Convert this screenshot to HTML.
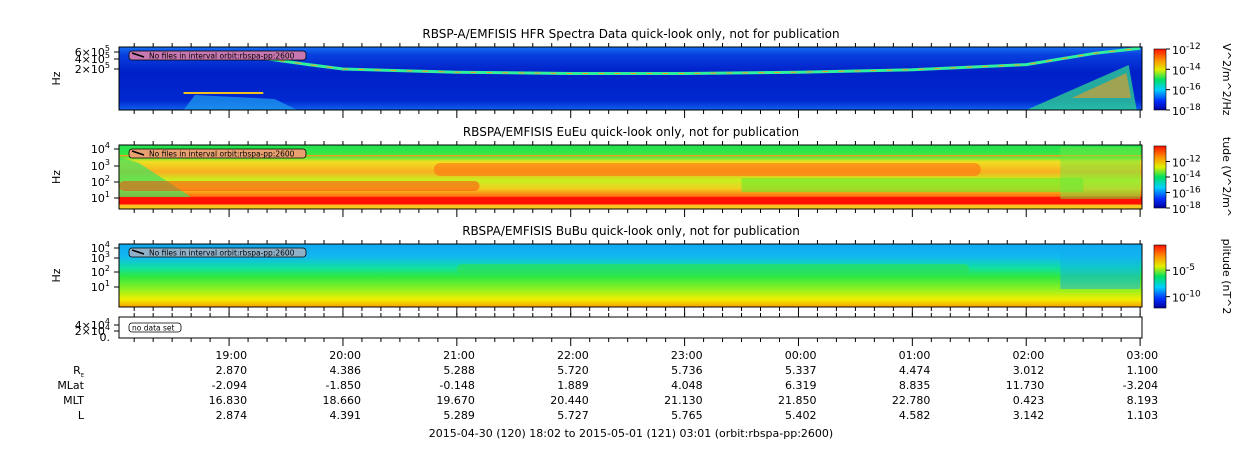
<!DOCTYPE html>
<html><head><meta charset="utf-8"><style>
body{margin:0;background:#fff;width:1250px;height:449px;overflow:hidden;font-family:"Liberation Sans","DejaVu Sans",sans-serif}
svg text{font-family:"DejaVu Sans","Liberation Sans",sans-serif}
</style></head><body>
<svg id="c" width="1250" height="449" viewBox="0 0 1250 449" xmlns="http://www.w3.org/2000/svg">
<defs>
<linearGradient id="jet" x1="0" y1="1" x2="0" y2="0">
<stop offset="0" stop-color="#0000a0"/><stop offset="0.15" stop-color="#0030ff"/><stop offset="0.33" stop-color="#00d0ff"/><stop offset="0.5" stop-color="#00e060"/><stop offset="0.66" stop-color="#e0f000"/><stop offset="0.82" stop-color="#ff9000"/><stop offset="1" stop-color="#ff1000"/></linearGradient>
<linearGradient id="p1bg" x1="0" y1="0" x2="0" y2="1">
<stop offset="0" stop-color="#1870f0"/><stop offset="0.12" stop-color="#0840e0"/><stop offset="0.4" stop-color="#0020c8"/><stop offset="0.85" stop-color="#0028d0"/><stop offset="1" stop-color="#1060f0"/></linearGradient>
<linearGradient id="p2bg" x1="0" y1="0" x2="0" y2="1">
<stop offset="0" stop-color="#20e050"/><stop offset="0.18" stop-color="#40e840"/><stop offset="0.26" stop-color="#f0e020"/><stop offset="0.42" stop-color="#f8b020"/><stop offset="0.55" stop-color="#c8f020"/><stop offset="0.68" stop-color="#f0d020"/><stop offset="0.8" stop-color="#ff7010"/><stop offset="0.82" stop-color="#ff1000"/><stop offset="0.92" stop-color="#ff1000"/><stop offset="0.94" stop-color="#f8c020"/><stop offset="1" stop-color="#f8d020"/></linearGradient>
<linearGradient id="p3bg" x1="0" y1="0" x2="0" y2="1">
<stop offset="0" stop-color="#10a8f0"/><stop offset="0.2" stop-color="#10b8f0"/><stop offset="0.38" stop-color="#10e0a0"/><stop offset="0.52" stop-color="#30e840"/><stop offset="0.72" stop-color="#90f020"/><stop offset="0.88" stop-color="#f0f000"/><stop offset="1" stop-color="#f8a000"/></linearGradient>
</defs>
<g id="panels"></g>
<g id="table"></g>
</svg>
<script>
const hours=["19:00","20:00","21:00","22:00","23:00","00:00","01:00","02:00","03:00"];
const rowLabels=["MLat","MLT","L"];
const reVals=["2.870","4.386","5.288","5.720","5.736","5.337","4.474","3.012","1.100"];
const mlatVals=["-2.094","-1.850","-0.148","1.889","4.048","6.319","8.835","11.730","-3.204"];
const mltVals=["16.830","18.660","19.670","20.440","21.130","21.850","22.780","0.423","8.193"];
const lVals=["2.874","4.391","5.289","5.727","5.765","5.402","4.582","3.142","1.103"];
// upper-hybrid line position (fraction of panel height from top) at hour offsets
const lineHours=[0.3,0.7,1,2,3,4,5,6,7,7.6,8];
const lineFrac=[0.18,0.28,0.35,0.4,0.42,0.42,0.4,0.36,0.28,0.1,0.02];
const NS="http://www.w3.org/2000/svg";
const X0=119,X1=1142,t0=-58/60;
function xs(h){return X0+(h-t0)/(8-t0+1/60)*(X1-X0);}
function el(tag,attrs,parent,txt){const e=document.createElementNS(NS,tag);for(const k in attrs)e.setAttribute(k,attrs[k]);if(txt!==undefined)e.textContent=txt;parent.appendChild(e);return e;}
const P=document.getElementById('panels');
const panels=[
 {y:47,h:63,title:"RBSP-A/EMFISIS  HFR Spectra Data quick-look only, not for publication",bg:"url(#p1bg)",name:"hfr"},
 {y:145,h:64,title:"RBSPA/EMFISIS  EuEu quick-look only, not for publication",bg:"url(#p2bg)",name:"eueu"},
 {y:244,h:63,title:"RBSPA/EMFISIS  BuBu quick-look only, not for publication",bg:"url(#p3bg)",name:"bubu"},
 {y:317,h:21,title:null,bg:"#fff",name:"empty"}];
panels.forEach((p,i)=>{
 const g=el('g',{},P);
 
 
 if(p.title){const t=el('text',{x:631,y:p.y-9,'font-size':12,'text-anchor':'middle',fill:'#000'},g,p.title);
  }
 const r=el('rect',{x:X0,y:p.y,width:X1-X0,height:p.h,fill:p.bg},g);
 
 if(i==0){
  let d="";lineHours.forEach((h,k)=>{d+=(k?"L":"M")+xs(h).toFixed(1)+","+(p.y+lineFrac[k]*p.h).toFixed(1);});
  const l=el('path',{d:d,stroke:'#30f0a0','stroke-width':3,fill:'none'},g);
  
  el('path',{d:d,stroke:'#f0a020','stroke-width':1,fill:'none','stroke-dasharray':'6 10'},g);
  el('path',{d:`M${xs(7.0)},${p.y+p.h}L${xs(7.9)},${p.y+18}L${xs(7.97)},${p.y+p.h}Z`,fill:'#30d890',opacity:0.75},g);
  el('path',{d:`M${xs(7.4)},${p.y+p.h-12}L${xs(7.88)},${p.y+26}L${xs(7.92)},${p.y+p.h-12}Z`,fill:'#f0a020',opacity:0.6},g);
  el('rect',{x:xs(-0.4),y:p.y+45,width:xs(0.3)-xs(-0.4),height:2,fill:'#f0c020'},g);
  el('path',{d:`M${xs(-0.4)},${p.y+p.h}L${xs(-0.3)},${p.y+48}L${xs(0.4)},${p.y+52}L${xs(0.6)},${p.y+p.h}Z`,fill:'#20a0f0',opacity:0.7},g);
 }
 if(i==1){
  el('path',{d:`M${X0},${p.y+12}L${X0+20},${p.y+18}L${X0+72},${p.y+52}L${X0},${p.y+52}Z`,fill:'#40e060',opacity:0.7},g);
  el('rect',{x:X0,y:p.y+10,width:X1-X0,height:1.5,fill:'#f0a020'},g);
  el('rect',{x:xs(1.8),y:p.y+18,width:xs(6.6)-xs(1.8),height:13,fill:'#ff6a10',opacity:0.55,rx:6},g);
  el('rect',{x:X0,y:p.y+36,width:xs(2.2)-X0,height:10,fill:'#ff4010',opacity:0.5,rx:5},g);
  el('rect',{x:xs(4.5),y:p.y+33,width:xs(7.5)-xs(4.5),height:14,fill:'#60e830',opacity:0.55},g);
  el('rect',{x:xs(7.3),y:p.y+2,width:xs(8)-xs(7.3),height:p.h-12,fill:'#70e840',opacity:0.5},g);
 }
 if(i==2){
  el('rect',{x:xs(2),y:p.y+20,width:xs(6.5)-xs(2),height:10,fill:'#30e050',opacity:0.6,rx:5},g);
  el('rect',{x:xs(7.3),y:p.y+2,width:xs(8)-xs(7.3),height:p.h-20,fill:'#10b0f0',opacity:0.5},g);
 }
 if(i<3){
  const b=el('g',{},g);
  el('rect',{x:129,y:p.y+4,width:177,height:9,rx:3,fill:i==0?'#c878b0':(i==1?'#e8a070':'#90b0c8'),stroke:'#000','stroke-width':0.8},b);
  el('line',{x1:132,y1:p.y+6,x2:144,y2:p.y+10,stroke:'#000','stroke-width':1.5},b);
  el('text',{x:149,y:p.y+11.5,'font-size':7.5,fill:'#000'},b,"No files in interval orbit:rbspa-pp:2600");
 } else {
  const b=el('g',{},g);
  el('rect',{x:129,y:p.y+6,width:52,height:9,rx:3,fill:'#fff',stroke:'#000','stroke-width':0.8},b);
  el('text',{x:132,y:p.y+13.5,'font-size':7.5,fill:'#000'},b,"no data set");
 }
 el('rect',{x:X0,y:p.y,width:X1-X0,height:p.h,fill:'none',stroke:'#000','stroke-width':1},g);
 for(let m=-50;m<=480;m+=10){const h=m/60;if(h<t0)continue;const x=xs(h);const maj=m%60==0;const L=maj?8:4;
  el('line',{x1:x,y1:p.y+p.h,x2:x,y2:p.y+p.h+L,stroke:'#000'},g);
  el('line',{x1:x,y1:p.y,x2:x,y2:p.y-4,stroke:'#000'},g);}
 if(i<3) el('text',{x:56,y:p.y+p.h/2+4,'font-size':11,'text-anchor':'middle',transform:`rotate(-90 56 ${p.y+p.h/2})`},g,"Hz");
});
const ylab=[[0,"6×10",5,52],[0,"4×10",5,59],[0,"2×10",5,69],[1,"10",4,149],[1,"10",3,166],[1,"10",2,182],[1,"10",1,198],[2,"10",4,248],[2,"10",3,258],[2,"10",2,272],[2,"10",1,287],[3,"4×10",4,325],[3,"2×10",4,331]];
ylab.forEach(a=>{const t=el('text',{x:110,y:a[3]+4,'font-size':11,'text-anchor':'end'},P);el('tspan',{},t,a[1]);el('tspan',{dy:-5,'font-size':8},t,a[2]);
 
 el('line',{x1:X0-5,y1:a[3],x2:X0,y2:a[3],stroke:'#000'},P);});
el('text',{x:110,y:341,'font-size':11,'text-anchor':'end'},P,"0.");
const cbs=[[49,61,["-12","-14","-16","-18"],"V^2/m^2/Hz"],[146,62,["-12","-14","-16","-18"],"tude (V^2/m^"],[245,63,["-5","-10"],"plitude (nT^2"]];
cbs.forEach((c,k)=>{const g=el('g',{},P);
 el('rect',{x:1154,y:c[0],width:12,height:c[1],fill:'url(#jet)',stroke:'#000','stroke-width':0.6},g);
 c[2].forEach((e,j)=>{let y;if(k<2){y=c[0]+c[1]*(k==0?(j/3):(0.25+j*0.25));}else{y=c[0]+c[1]*(j==0?0.4:0.82);}
  el('line',{x1:1166,y1:y,x2:1170,y2:y,stroke:'#000'},g);
  const t=el('text',{x:1172,y:y+5,'font-size':11},g);el('tspan',{},t,"10");el('tspan',{dy:-5,'font-size':9},t,e);});
 el('text',{x:1223,y:c[0]+c[1]/2,'font-size':11,'text-anchor':'middle',transform:`rotate(90 1223 ${c[0]+c[1]/2})`},g,c[3]);});
const T=document.getElementById('table');
function row(vals,y,name){vals.forEach((v,j)=>{const t=el('text',{x:xs(j)+18,y:y,'font-size':11,'text-anchor':'end'},T,v);
 });}
row(hours,359,'time');row(reVals,374,'re');row(mlatVals,389,'mlat');row(mltVals,404,'mlt');row(lVals,419,'l');
const re=el('text',{x:84,y:374,'font-size':11,'text-anchor':'end'},T);el('tspan',{},re,"R");el('tspan',{dy:3,'font-size':5},re,"E");
rowLabels.forEach((r,j)=>el('text',{x:84,y:389+15*j,'font-size':11,'text-anchor':'end'},T,r));
const ft=el('text',{x:631,y:437,'font-size':11,'text-anchor':'middle'},T,"2015-04-30 (120) 18:02 to 2015-05-01 (121) 03:01 (orbit:rbspa-pp:2600)");

</script>
</body></html>
